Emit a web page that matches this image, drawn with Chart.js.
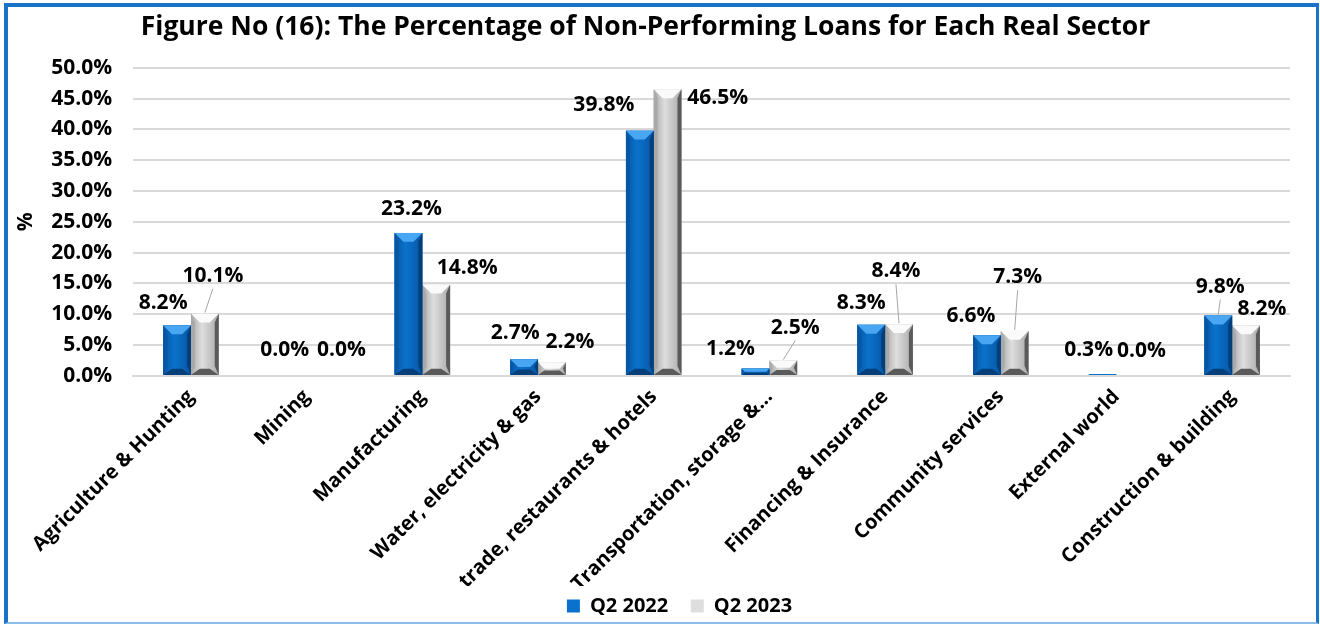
<!DOCTYPE html>
<html>
<head>
<meta charset="utf-8">
<script src="https://cdn.jsdelivr.net/npm/chart.js@4.4.1/dist/chart.umd.min.js"></script>
<style>
  html, body { margin: 0; padding: 0; background: #fff; }
  #wrap { position: relative; width: 1320px; height: 625px; }
  #frame {
    position: absolute; left: 4px; top: 3px; width: 1308px; height: 615px;
    border: 4px solid #1a73c6; border-right-width: 3px;
    border-bottom: 2px solid #8cbde8; pointer-events: none;
  }
</style>
</head>
<body>
<div id="wrap">
  <canvas id="chart" width="1320" height="625"></canvas>
  <div id="frame"></div>
</div>
<script>
const categories = [
  "Agriculture & Hunting", "Mining", "Manufacturing", "Water, electricity & gas",
  "trade, restaurants & hotels", "Transportation, storage &…", "Financing & Insurance",
  "Community services", "External world", "Construction & building"
];
const q2_2022 = [8.2, 0.0, 23.2, 2.7, 39.8, 1.2, 8.3, 6.6, 0.3, 9.8];
const q2_2023 = [10.1, 0.0, 14.8, 2.2, 46.5, 2.5, 8.4, 7.3, 0.0, 8.2];
const seriesNames = ["Q2 2022", "Q2 2023"];

// where Excel put each data label, relative to the top of its bar (px)
const labelOffsets = [
  [[-14,-22],[-8,-26],[3,-24],[-9,-26],[-36,-26],[-25,-20],[-10,-22],[-16,-19],[-14,-24],[2,-29]],
  [[8,-38],[21,-26],[31,-17],[18,-20],[50,9],[12,-33],[-3,-53],[3,-54],[11,-25],[16,-16]]
];
const leaders = [
  [false,false,false,false,false,false,false,false,false,true],
  [true,false,false,false,false,true,true,true,false,false]
];

const FONT = "'Open Sans', sans-serif";

const shades = [
  { main: "#0a72cc", light: "#48a6f2", dark: "#053f7a", side: "#0756a3" },
  { main: "#dedede", light: "#fafafa", dark: "#5a5a5a", side: "#a9a9a9" }
];

const bevel = {
  id: "bevel",
  afterLayout(chart) {
    // Excel's legend sits a bit right of the canvas centre
    const lg = chart.legend;
    lg.left += 34; lg.right += 34;
    lg.top += 3; lg.bottom += 3;
  },
  afterDatasetDraw(chart, args) {
    const ctx = chart.ctx;
    const pal = shades[args.index];
    args.meta.data.forEach(bar => {
      const { x, y, base, width } = bar.getProps(["x", "y", "base", "width"], true);
      const h = base - y;
      if (h < 1) return;
      const l = x - width / 2, r = x + width / 2;
      const e = Math.min(width * 0.32, h / 2);
      ctx.save();
      const g = ctx.createLinearGradient(l, 0, r, 0);
      g.addColorStop(0, pal.side);
      g.addColorStop(0.4, pal.main);
      g.addColorStop(1, pal.side);
      ctx.fillStyle = g;
      ctx.fillRect(l, y, width, h);
      // top facet
      ctx.fillStyle = pal.light;
      ctx.beginPath();
      ctx.moveTo(l, y); ctx.lineTo(r, y); ctx.lineTo(r - e, y + e); ctx.lineTo(l + e, y + e); ctx.closePath();
      ctx.fill();
      // left facet
      ctx.fillStyle = pal.side;
      ctx.beginPath();
      ctx.moveTo(l, y); ctx.lineTo(l + e * 0.45, y + e); ctx.lineTo(l + e * 0.45, base - e); ctx.lineTo(l, base); ctx.closePath();
      ctx.fill();
      // right facet
      ctx.fillStyle = pal.dark;
      ctx.beginPath();
      ctx.moveTo(r, y); ctx.lineTo(r - e * 0.45, y + e); ctx.lineTo(r - e * 0.45, base - e); ctx.lineTo(r, base); ctx.closePath();
      ctx.fill();
      // bottom facet
      ctx.fillStyle = pal.dark;
      ctx.beginPath();
      ctx.moveTo(l, base); ctx.lineTo(r, base); ctx.lineTo(r - e, base - e * 0.7); ctx.lineTo(l + e, base - e * 0.7); ctx.closePath();
      ctx.fill();
      ctx.restore();
    });
  },
  afterDatasetsDraw(chart) {
    const ctx = chart.ctx;
    ctx.save();
    ctx.font = "bold 21px " + FONT;
    ctx.fillStyle = "#000";
    ctx.textAlign = "center";
    ctx.textBaseline = "middle";
    chart.data.datasets.forEach((ds, i) => {
      chart.getDatasetMeta(i).data.forEach((bar, j) => {
        const [dx, dy] = labelOffsets[i][j];
        const lx = bar.x + dx, ly = bar.y + dy;
        if (leaders[i][j]) {
          ctx.strokeStyle = "#a6a6a6";
          ctx.lineWidth = 1;
          ctx.beginPath();
          ctx.moveTo(bar.x, bar.y - 1);
          ctx.lineTo(lx, ly + 13);
          ctx.stroke();
        }
        ctx.fillText(ds.data[j].toFixed(1) + "%", lx, ly);
      });
    });
    ctx.restore();
  }
};

new Chart(document.getElementById("chart"), {
  type: "bar",
  data: {
    labels: categories,
    datasets: [
      { label: seriesNames[0], data: q2_2022, backgroundColor: shades[0].main },
      { label: seriesNames[1], data: q2_2023, backgroundColor: shades[1].main }
    ]
  },
  options: {
    responsive: false,
    animation: false,
    categoryPercentage: 0.48,
    barPercentage: 1,
    layout: { padding: { left: 1, right: 30, top: 8, bottom: 2 } },
    plugins: {
      title: {
        display: true,
        text: "Figure No (16): The Percentage of Non-Performing Loans for Each Real Sector",
        color: "#000",
        font: { family: FONT, size: 26.5, weight: "bold" },
        padding: { top: 4, bottom: 24 }
      },
      legend: {
        position: "bottom",
        labels: {
          color: "#000",
          font: { family: FONT, size: 20, weight: "bold" },
          boxWidth: 13, boxHeight: 13, padding: 7,
          generateLabels: chart => Chart.defaults.plugins.legend.labels.generateLabels(chart)
            .map((item, i) => ({ ...item, text: i === 0 ? item.text + "   " : item.text }))
        }
      },
      tooltip: { enabled: false }
    },
    scales: {
      y: {
        min: 0, max: 50,
        ticks: {
          stepSize: 5,
          color: "#000",
          padding: 21,
          font: { family: FONT, size: 21, weight: "bold" },
          callback: v => v.toFixed(1) + "%"
        },
        grid: { color: "#d9d9d9", lineWidth: 2, drawTicks: false },
        border: { display: false },
        title: {
          display: true, text: "%", color: "#000",
          font: { family: FONT, size: 21, weight: "bold" },
          padding: { top: 12, bottom: -8 }
        }
      },
      x: {
        afterFit: scale => { scale.height -= 11; },
        ticks: {
          color: "#000", maxRotation: 45, minRotation: 45, padding: 1,
          font: { family: FONT, size: 20, weight: "bold" }
        },
        grid: { display: false },
        border: { color: "#d9d9d9", width: 2 }
      }
    }
  },
  plugins: [bevel]
});
</script>
</body>
</html>
